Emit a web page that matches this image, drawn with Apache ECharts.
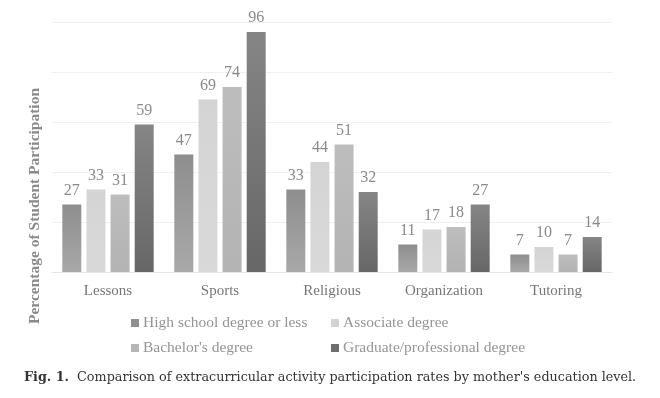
<!DOCTYPE html>
<html>
<head>
<meta charset="utf-8">
<script src="https://cdn.jsdelivr.net/npm/echarts@6/dist/echarts.min.js"></script>
<style>
  html, body { margin: 0; padding: 0; background: #fff; }
  #main { width: 660px; height: 398px; }
</style>
</head>
<body>
<div id="main"></div>
<script>
  // activity categories
  var categories = ['Lessons', 'Sports', 'Religious', 'Organization', 'Tutoring'];
  var seriesNames = ['High school degree or less', 'Associate degree', "Bachelor's degree", 'Graduate/professional degree'];
  // participation % by mother's education
  var highSchool = [27, 47, 33, 11, 7];
  var associate = [33, 69, 44, 17, 10];
  var bachelor = [31, 74, 51, 18, 7];
  var graduate = [59, 96, 32, 27, 14];

  var serif = '"Liberation Serif", "DejaVu Serif", serif';

  function grad(top, bottom) {
    return new echarts.graphic.LinearGradient(0, 0, 0, 1, [
      { offset: 0, color: top },
      { offset: 1, color: bottom }
    ]);
  }
  var colors = [
    grad('#8e8e8e', '#a8a8a8'),
    grad('#d4d4d4', '#d9d9d9'),
    grad('#bdbdbd', '#b3b3b3'),
    grad('#858585', '#676767')
  ];
  var iconColors = ['#8f8f8f', '#d3d3d3', '#b6b6b6', '#6e6e6e'];

  function makeSeries(idx, data) {
    return {
      name: seriesNames[idx],
      type: 'bar',
      data: data,
      barWidth: 19,
      barGap: '27%',
      itemStyle: { color: colors[idx] },
      label: {
        show: true,
        position: 'top',
        distance: 6,
        color: '#8a8a8a',
        fontFamily: serif,
        fontSize: 16
      }
    };
  }

  // one legend per item so they sit in two tidy columns
  var legendPos = [[126, 310], [326, 310], [126, 335], [326, 335]];
  var legends = seriesNames.map(function (n, i) {
    return {
      data: [{ name: n, itemStyle: { color: iconColors[i] } }],
      left: legendPos[i][0],
      top: legendPos[i][1],
      icon: 'rect',
      itemWidth: 8,
      itemHeight: 8,
      itemGap: 4,
      selectedMode: false,
      textStyle: { color: '#959595', fontFamily: serif, fontSize: 15.5, padding: [0, 0, 0, -1] }
    };
  });

  var chart = echarts.init(document.getElementById('main'));
  chart.setOption({
    animation: false,
    backgroundColor: '#fff',
    grid: { left: 52, right: 48, top: 22, bottom: 126 },
    legend: legends,
    xAxis: {
      type: 'category',
      data: categories,
      axisLine: { lineStyle: { color: '#e6e6e6' } },
      axisTick: { show: false },
      axisLabel: { color: '#777', fontFamily: serif, fontSize: 15, margin: 12 }
    },
    yAxis: {
      type: 'value',
      min: 0,
      max: 100,
      interval: 20,
      axisLabel: { show: false },
      axisLine: { show: false },
      axisTick: { show: false },
      splitLine: { lineStyle: { color: '#f0f0f0' } }
    },
    graphic: [
      {
        type: 'text',
        x: 35,
        y: 206,
        rotation: Math.PI / 2,
        style: {
          text: 'Percentage of Student Participation',
          fill: '#8a8a8a',
          font: 'bold 15.5px ' + serif,
          align: 'center',
          verticalAlign: 'middle'
        }
      },
      {
        type: 'text',
        left: 24,
        top: 371,
        style: {
          text: '{b|Fig. 1.}  Comparison of extracurricular activity participation rates by mother\'s education level.',
          fill: '#333',
          font: '12.75px "DejaVu Serif", serif',
          rich: {
            b: { fontWeight: 'bold', fill: '#333', fontFamily: '"DejaVu Serif", serif', fontSize: 12.75 }
          }
        }
      }
    ],
    series: [
      makeSeries(0, highSchool),
      makeSeries(1, associate),
      makeSeries(2, bachelor),
      makeSeries(3, graduate)
    ]
  });
</script>
</body>
</html>
